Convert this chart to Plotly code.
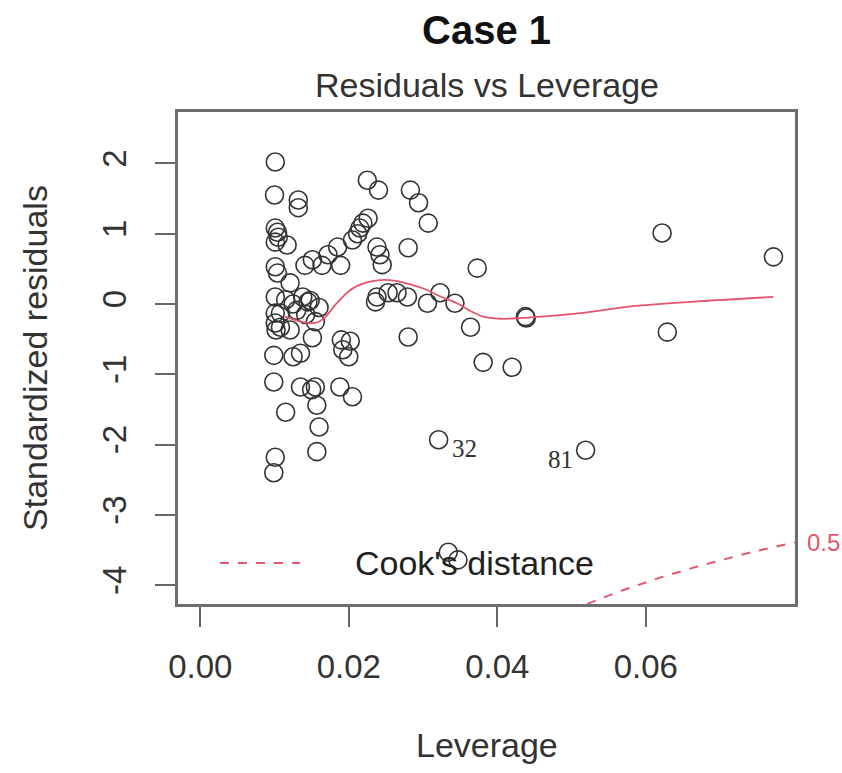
import numpy as np
import plotly.graph_objects as go

# Leverage (hat values) and standardized residuals of the fitted model
leverage = [
    0.0101, 0.0100, 0.0101, 0.0104, 0.0105, 0.0101, 0.0101, 0.0104, 0.0101, 0.0101,
    0.0101, 0.0102, 0.0099, 0.0099, 0.0101, 0.0099, 0.0117, 0.0132, 0.0132, 0.0121,
    0.0138, 0.0115, 0.0108, 0.0130, 0.0155, 0.0145, 0.0108, 0.0121, 0.0151, 0.0125,
    0.0135, 0.0155, 0.0135, 0.0150, 0.0157, 0.0115, 0.0160, 0.0157, 0.0141, 0.0151,
    0.0164, 0.0172, 0.0185, 0.0189, 0.0205, 0.0215, 0.0226, 0.0225, 0.0240, 0.0238,
    0.0242, 0.0245, 0.0236, 0.0238, 0.0219, 0.0212, 0.0190, 0.0202, 0.0200, 0.0192,
    0.0188, 0.0205, 0.0283, 0.0294, 0.0307, 0.0280, 0.0373, 0.0265, 0.0279, 0.0306,
    0.0323, 0.0343, 0.0364, 0.0280, 0.0438, 0.0439, 0.0381, 0.0420, 0.0253, 0.0622,
    0.0772, 0.0629, 0.0321, 0.0519, 0.0334, 0.0347, 0.0148, 0.0160, 0.0125, 0.0142,
]
std_resid = [
    2.02, 1.55, 1.08, 1.02, 0.95, 0.88, 0.53, 0.44, 0.10, -0.13,
    -0.27, -0.37, -0.73, -1.11, -2.18, -2.40, 0.84, 1.48, 1.37, 0.30,
    0.10, 0.06, -0.13, -0.09, -0.25, 0.03, -0.33, -0.37, -0.48, -0.75,
    -0.70, -1.18, -1.18, -1.22, -1.44, -1.54, -1.75, -2.10, 0.55, 0.63,
    0.55, 0.70, 0.81, 0.55, 0.91, 1.08, 1.22, 1.76, 1.62, 0.81,
    0.70, 0.56, 0.03, 0.10, 1.15, 1.00, -0.51, -0.53, -0.75, -0.65,
    -1.18, -1.32, 1.62, 1.44, 1.15, 0.80, 0.51, 0.16, 0.10, 0.01,
    0.16, 0.01, -0.33, -0.47, -0.18, -0.20, -0.83, -0.90, 0.16, 1.01,
    0.67, -0.40, -1.93, -2.08, -3.53, -3.64, 0.05, -0.05, 0.00, -0.15,
]

# Labelled observations (largest Cook's distances)
id_labels = ["32", "81"]
id_leverage = [0.0321, 0.0519]
id_resid = [-1.93, -2.08]

# Lowess smooth of residuals against leverage
smooth_lev = [0.0114, 0.0135, 0.0155, 0.0168, 0.0182, 0.0202, 0.0222, 0.0242, 0.0263,
              0.0283, 0.0303, 0.0323, 0.0346, 0.0364, 0.0381, 0.0404, 0.0431, 0.0458,
              0.0512, 0.0575, 0.0673, 0.0772]
smooth_res = [-0.18, -0.25, -0.27, -0.19, -0.01, 0.20, 0.30, 0.34, 0.33,
              0.28, 0.21, 0.11, 0.01, -0.10, -0.18, -0.21, -0.20, -0.18,
              -0.13, -0.04, 0.04, 0.10]

# Cook's distance contour settings
cook_level = 0.5
n_params = 2
x_range = [-0.003, 0.0801]
y_range = [-4.267, 2.731]

x_ticks = [0.00, 0.02, 0.04, 0.06]
x_tick_text = ["0.00", "0.02", "0.04", "0.06"]
y_ticks = [-4, -3, -2, -1, 0, 1, 2]
y_tick_text = ["-4", "-3", "-2", "-1", "0", "1", "2"]

FONT = "Liberation Sans"
RED = "#e5566c"

hh = np.linspace(0.005, x_range[1], 201)
cook_curve = np.sqrt(cook_level * n_params * (1 - hh) / hh)
cook_label_y = -np.sqrt(cook_level * n_params * (1 - x_range[1]) / x_range[1])

fig = go.Figure()

fig.add_trace(go.Scatter(
    x=leverage, y=std_resid, mode="markers",
    marker=dict(symbol="circle-open", size=18, color="#333333", line=dict(width=1.6)),
    hoverinfo="x+y", showlegend=False,
))

fig.add_trace(go.Scatter(
    x=smooth_lev, y=smooth_res, mode="lines",
    line=dict(color=RED, width=1.8, shape="spline", smoothing=0.8), showlegend=False,
))

for sign in (-1, 1):
    fig.add_trace(go.Scatter(
        x=hh, y=sign * cook_curve, mode="lines",
        line=dict(color=RED, width=2, dash="dash"), showlegend=False,
    ))

annotations = []
for lab, lx, ly, side in zip(id_labels, id_leverage, id_resid, ["right", "left"]):
    annotations.append(dict(
        x=lx, y=ly, xref="x", yref="y", text=lab, showarrow=False,
        xanchor="left" if side == "right" else "right", yanchor="middle",
        xshift=11 if side == "right" else -11, yshift=-9,
        font=dict(family="Liberation Serif", size=25, color="#333333"),
    ))

annotations += [
    dict(x=0.5, y=1.1667, xref="paper", yref="paper", text="<b>Case 1</b>",
         xanchor="center", yanchor="middle", showarrow=False,
         font=dict(family=FONT, size=40, color="#111111")),
    dict(x=0.5, y=1.0549, xref="paper", yref="paper", text="Residuals vs Leverage",
         xanchor="center", yanchor="middle", showarrow=False,
         font=dict(family=FONT, size=34, color="#333333")),
    dict(x=0.5, y=-0.2866, xref="paper", yref="paper", text="Leverage",
         xanchor="center", yanchor="middle", showarrow=False,
         font=dict(family=FONT, size=34, color="#333333")),
    dict(x=-0.2318, y=0.5, xref="paper", yref="paper", text="Standardized residuals",
         textangle=-90, xanchor="center", yanchor="middle", showarrow=False,
         font=dict(family=FONT, size=34, color="#333333")),
    dict(x=0.2836, y=0.0833, xref="paper", yref="paper", text="Cook's distance",
         xanchor="left", yanchor="middle", showarrow=False,
         font=dict(family=FONT, size=34, color="#222222")),
    dict(x=1.0, y=cook_label_y, xref="paper", yref="y", text=f"{cook_level:g}",
         xanchor="left", yanchor="middle", xshift=10, showarrow=False,
         font=dict(family=FONT, size=24, color=RED)),
]

shapes = [
    dict(type="line", xref="paper", yref="paper", x0=0.068, x1=0.198, y0=0.0833, y1=0.0833,
         line=dict(color=RED, width=2, dash="dash")),
]

axis_common = dict(
    showgrid=False, zeroline=False, showline=True, mirror=True,
    linecolor="#6e6e6e", linewidth=2.5, ticks="outside", ticklen=20,
    tickcolor="#666666", tickwidth=2,
    tickfont=dict(family=FONT, size=33, color="#333333"),
)

fig.update_layout(
    width=842, height=773,
    margin=dict(l=178, r=47, t=112, b=169),
    paper_bgcolor="white", plot_bgcolor="white",
    xaxis=dict(range=x_range, tickvals=x_ticks, ticktext=x_tick_text,
               ticklabelstandoff=12, **axis_common),
    yaxis=dict(range=y_range, tickvals=y_ticks, ticktext=y_tick_text, tickangle=-90,
               ticklabelstandoff=16, **axis_common),
    annotations=annotations, shapes=shapes,
    showlegend=False,
)

fig.write_html("out.html")
